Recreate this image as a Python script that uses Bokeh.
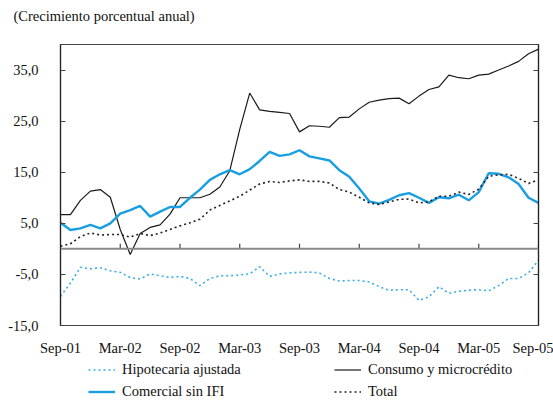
from bokeh.plotting import figure
from bokeh.layouts import column
from bokeh.models import (ColumnDataSource, FixedTicker, CustomJSTickFormatter, LinearAxis,
                          Legend, LegendItem, Span, Title, Range1d)
from bokeh.embed import file_html
from bokeh.resources import INLINE

# ---- data (monthly, Sep-01 .. Sep-05) ----
months = list(range(49))
tick_labels = ["Sep-01", "Mar-02", "Sep-02", "Mar-03", "Sep-03",
               "Mar-04", "Sep-04", "Mar-05", "Sep-05"]

hipotecaria = [-9.3, -6.7, -3.6, -3.9, -3.7, -4.3, -4.6, -5.6, -5.9, -4.9,
               -5.25, -5.6, -5.4, -5.8, -7.2, -5.8, -5.25, -5.25, -5.1, -4.9,
               -3.5, -5.4, -4.9, -4.7, -4.6, -4.55, -4.7, -5.8, -6.3, -6.2,
               -6.2, -6.5, -7.4, -8.1, -8.0, -8.0, -10.1, -9.4, -7.4, -8.7,
               -8.3, -8.1, -8.0, -8.2, -7.2, -5.8, -5.8, -4.7, -2.2]

consumo = [6.7, 6.7, 9.5, 11.3, 11.6, 10.1, 3.8, -1.1, 3.0, 4.2,
           4.7, 6.8, 10.0, 10.0, 10.0, 10.7, 12.1, 15.3, 23.4, 30.5,
           27.2, 26.9, 26.7, 26.5, 22.9, 24.1, 24.0, 23.8, 25.7, 25.8,
           27.4, 28.7, 29.1, 29.4, 29.5, 28.4, 29.9, 31.2, 31.7, 34.0,
           33.5, 33.3, 34.0, 34.2, 35.0, 35.8, 36.7, 38.2, 39.1]

comercial = [5.1, 3.7, 4.0, 4.7, 4.0, 5.0, 6.9, 7.6, 8.4, 6.3,
             7.3, 8.2, 8.2, 10.0, 11.6, 13.5, 14.6, 15.4, 14.6, 15.6,
             17.2, 19.0, 18.2, 18.5, 19.3, 18.1, 17.7, 17.3, 15.4, 14.1,
             11.8, 9.3, 8.85, 9.6, 10.5, 10.9, 10.0, 9.0, 10.1, 9.9,
             10.6, 9.5, 11.1, 14.8, 14.7, 14.0, 12.7, 10.0, 9.0]

total = [0.5, 1.0, 2.4, 3.1, 2.7, 2.8, 2.8, 2.3, 3.0, 2.6,
         3.1, 3.8, 4.5, 5.1, 5.8, 7.6, 8.5, 9.4, 10.3, 11.5,
         12.7, 13.2, 13.0, 13.3, 13.5, 13.2, 13.2, 12.9, 11.6, 11.1,
         10.1, 9.0, 8.7, 9.2, 9.7, 9.75, 9.0, 9.2, 10.3, 10.3,
         11.1, 10.65, 11.7, 14.2, 14.5, 14.6, 13.8, 12.8, 13.5]

y_ticks = [-15, -5, 5, 15, 25, 35]
x_ticks = list(range(0, 49, 6))

series_names = ["Hipotecaria ajustada", "Consumo y microcrédito", "Comercial sin IFI", "Total"]
title_text = "(Crecimiento porcentual anual)"

SERIF = "Liberation Serif"
FS = "14.5px"
BLUE = "#1a9ee2"
LBLUE = "#36aee6"
HIP_STYLE = dict(line_color=LBLUE, line_width=1.6, line_dash="2 3")
CON_STYLE = dict(line_color="#1a1a1a", line_width=1.2)
COM_STYLE = dict(line_color=BLUE, line_width=2.4)
TOT_STYLE = dict(line_color="#222222", line_width=1.6, line_dash="2 3")

src = ColumnDataSource(dict(m=months, hip=hipotecaria, con=consumo, com=comercial, tot=total))

# ---- title strip ----
tf = figure(width=553, height=34, output_backend="svg", toolbar_location=None,
            x_axis_location=None, y_axis_location=None, min_border=0,
            outline_line_color=None, x_range=Range1d(0, 48), y_range=Range1d(-15, 40))
tf.grid.visible = False
tf.title = Title(text=title_text, align="left", offset=-47,
                 text_font=SERIF, text_font_size=FS, text_font_style="normal",
                 text_color="#111111", standoff=10, vertical_align="bottom")

# ---- main chart ----
p = figure(width=553, height=324, output_backend="svg", toolbar_location=None,
           x_range=Range1d(0, 48), y_range=Range1d(-15, 40),
           min_border_left=60, min_border_right=15, min_border_top=10, min_border_bottom=27)

p.grid.visible = False
p.outline_line_color = "#444444"
p.outline_line_width = 1.2
p.background_fill_color = "white"
p.border_fill_color = "white"

# zero line
p.add_layout(Span(location=0, dimension="width", line_color="#8a8a8a", line_width=2))

# x ticks on the zero line
tick_src = ColumnDataSource(dict(x=x_ticks, y0=[0] * len(x_ticks), y1=[1.0] * len(x_ticks)))
p.segment(x0="x", y0="y0", x1="x", y1="y1", source=tick_src, line_color="#444444", line_width=1.2)

p.line("m", "hip", source=src, **HIP_STYLE)
p.line("m", "con", source=src, **CON_STYLE)
p.line("m", "com", source=src, **COM_STYLE)
p.line("m", "tot", source=src, **TOT_STYLE)

# axes
xa = p.xaxis[0]
xa.ticker = FixedTicker(ticks=x_ticks)
xa.major_label_overrides = {t: lab for t, lab in zip(x_ticks, tick_labels)}
xa.axis_line_color = None
xa.major_tick_line_color = None
xa.minor_tick_line_color = None
xa.major_label_standoff = 8
xa.major_label_text_font = SERIF
xa.major_label_text_font_size = FS
xa.major_label_text_color = "#111111"

ya = p.yaxis[0]
ya.ticker = FixedTicker(ticks=y_ticks)
ya.formatter = CustomJSTickFormatter(code="return tick.toFixed(1).replace('.', ',');")
ya.axis_line_color = "#222222"
ya.axis_line_width = 1.2
ya.major_tick_in = 5
ya.major_tick_out = 0
ya.major_tick_line_color = "#444444"
ya.minor_tick_line_color = None
ya.major_label_standoff = 22
ya.major_label_text_font = SERIF
ya.major_label_text_font_size = FS
ya.major_label_text_color = "#111111"

# right-side inward ticks, no labels
ra = LinearAxis(ticker=FixedTicker(ticks=y_ticks),
                formatter=CustomJSTickFormatter(code="return '';"),
                axis_line_color="#222222", axis_line_width=1.2,
                major_tick_in=5, major_tick_out=0, major_tick_line_color="#444444",
                minor_tick_line_color=None, major_label_standoff=0)
p.add_layout(ra, "right")

# ---- legend strip; proxy renderers are hidden ----
lsrc = ColumnDataSource(dict(m=months, hip=hipotecaria, con=consumo, com=comercial, tot=total))
lg = figure(width=553, height=42, output_backend="svg", toolbar_location=None,
            x_axis_location=None, y_axis_location=None,
            min_border=0, outline_line_color=None, x_range=Range1d(0, 48), y_range=Range1d(-15, 40))
lg.grid.visible = False
h1 = lg.line("m", "hip", source=lsrc, visible=False, **HIP_STYLE)
h2 = lg.line("m", "con", source=lsrc, visible=False, **CON_STYLE)
h3 = lg.line("m", "com", source=lsrc, visible=False, **COM_STYLE)
h4 = lg.line("m", "tot", source=lsrc, visible=False, **TOT_STYLE)
legend = Legend(items=[
    LegendItem(label=series_names[0], renderers=[h1]),
    LegendItem(label=series_names[1], renderers=[h2]),
    LegendItem(label=series_names[2], renderers=[h3]),
    LegendItem(label=series_names[3], renderers=[h4]),
], location=(28, 0), orientation="horizontal", ncols=2,
    padding=0, margin=0, spacing=5, glyph_width=27, glyph_height=15,
    label_height=15, label_width=207, label_standoff=7,
    label_text_font=SERIF, label_text_font_size=FS, label_text_color="#111111",
    border_line_color=None, background_fill_alpha=0)
lg.add_layout(legend, "center")

layout = column(tf, p, lg, spacing=0)
open("out.html", "w").write(file_html(layout, INLINE))
